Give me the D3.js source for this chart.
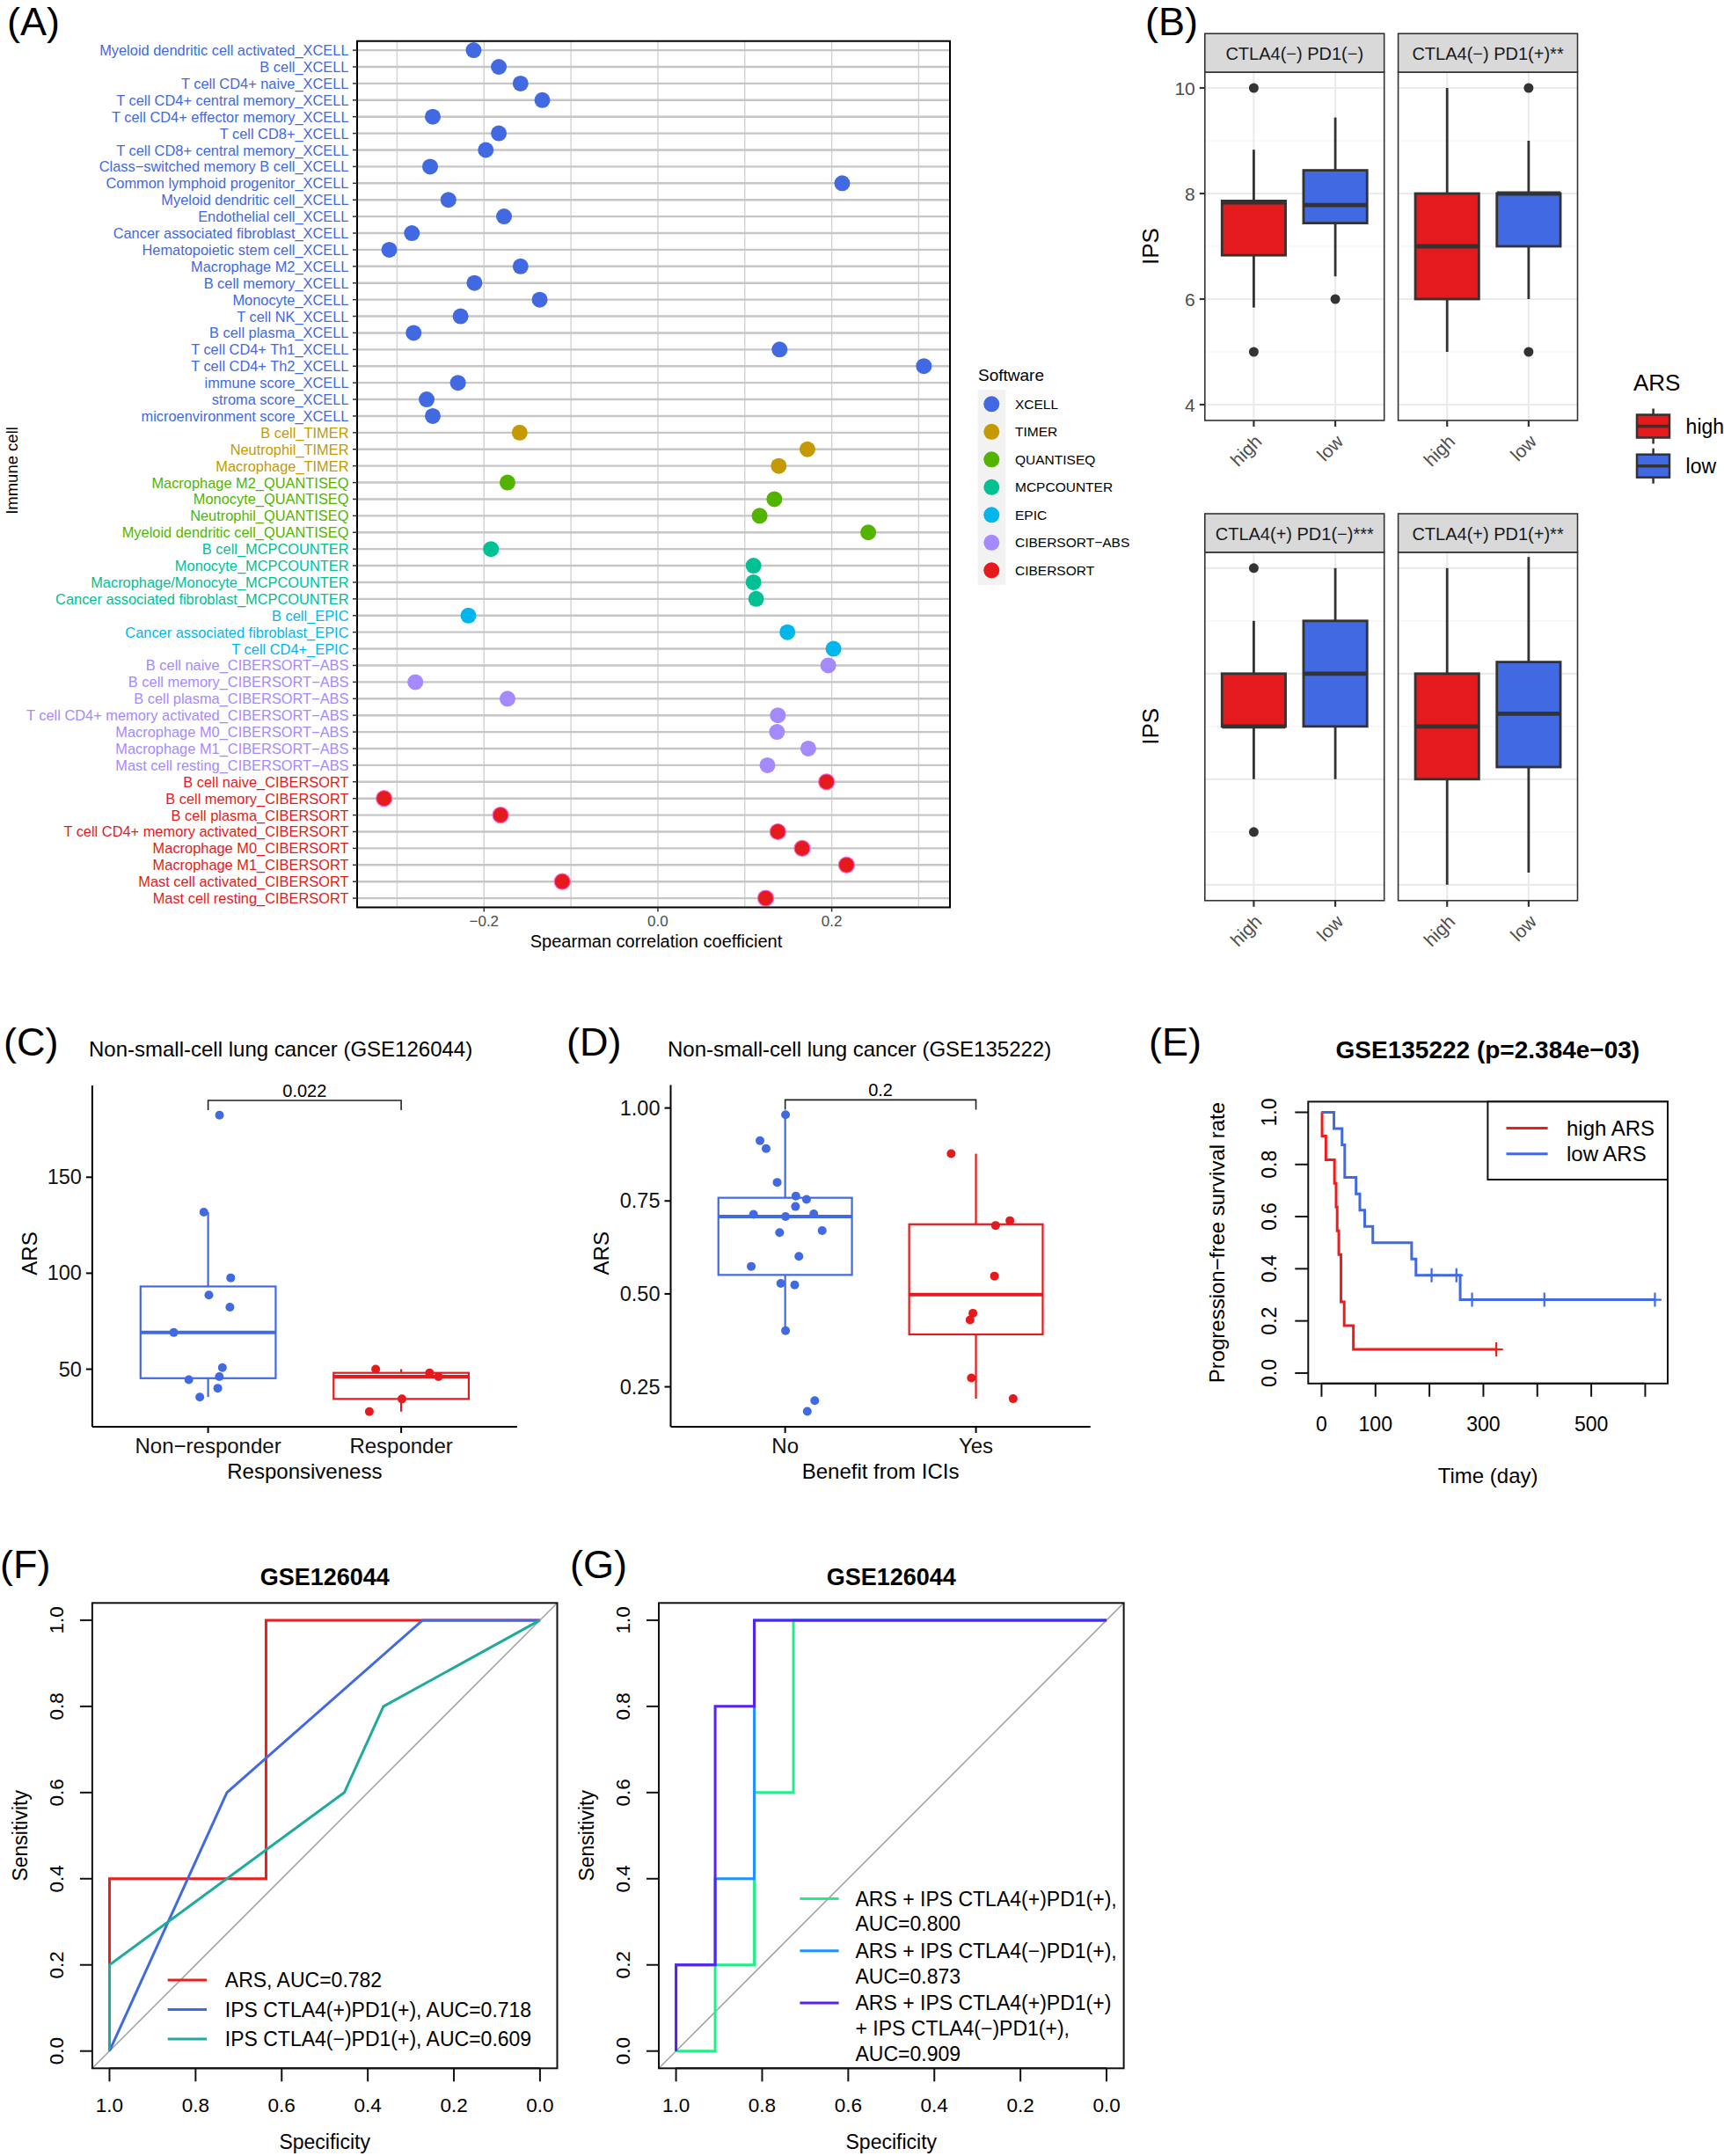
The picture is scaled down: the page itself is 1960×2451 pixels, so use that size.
<!DOCTYPE html>
<html><head><meta charset="utf-8">
<script src="https://cdn.jsdelivr.net/npm/d3@7"></script>
<style>
body{margin:0;background:#fff}
svg text{font-family:"Liberation Sans",Arial,Helvetica,sans-serif}
</style>
</head><body>
<svg id="fig" width="1960" height="2451" xmlns="http://www.w3.org/2000/svg"></svg>
<script>
// ================= DATA =================
// Panel A
const cellLabels = [
"Myeloid dendritic cell activated_XCELL","B cell_XCELL","T cell CD4+ naive_XCELL","T cell CD4+ central memory_XCELL","T cell CD4+ effector memory_XCELL","T cell CD8+_XCELL","T cell CD8+ central memory_XCELL","Class−switched memory B cell_XCELL","Common lymphoid progenitor_XCELL","Myeloid dendritic cell_XCELL","Endothelial cell_XCELL","Cancer associated fibroblast_XCELL","Hematopoietic stem cell_XCELL","Macrophage M2_XCELL","B cell memory_XCELL","Monocyte_XCELL","T cell NK_XCELL","B cell plasma_XCELL","T cell CD4+ Th1_XCELL","T cell CD4+ Th2_XCELL","immune score_XCELL","stroma score_XCELL","microenvironment score_XCELL",
"B cell_TIMER","Neutrophil_TIMER","Macrophage_TIMER",
"Macrophage M2_QUANTISEQ","Monocyte_QUANTISEQ","Neutrophil_QUANTISEQ","Myeloid dendritic cell_QUANTISEQ",
"B cell_MCPCOUNTER","Monocyte_MCPCOUNTER","Macrophage/Monocyte_MCPCOUNTER","Cancer associated fibroblast_MCPCOUNTER",
"B cell_EPIC","Cancer associated fibroblast_EPIC","T cell CD4+_EPIC",
"B cell naive_CIBERSORT−ABS","B cell memory_CIBERSORT−ABS","B cell plasma_CIBERSORT−ABS","T cell CD4+ memory activated_CIBERSORT−ABS","Macrophage M0_CIBERSORT−ABS","Macrophage M1_CIBERSORT−ABS","Mast cell resting_CIBERSORT−ABS",
"B cell naive_CIBERSORT","B cell memory_CIBERSORT","B cell plasma_CIBERSORT","T cell CD4+ memory activated_CIBERSORT","Macrophage M0_CIBERSORT","Macrophage M1_CIBERSORT","Mast cell activated_CIBERSORT","Mast cell resting_CIBERSORT"];
const cellRho = [-0.212,-0.183,-0.158,-0.133,-0.259,-0.183,-0.198,-0.262,0.212,-0.241,-0.177,-0.283,-0.309,-0.158,-0.211,-0.136,-0.227,-0.281,0.140,0.306,-0.230,-0.266,-0.259,
-0.159,0.172,0.139,
-0.173,0.134,0.117,0.242,
-0.192,0.110,0.110,0.113,
-0.218,0.149,0.202,
0.196,-0.279,-0.173,0.138,0.137,0.173,0.126,
0.194,-0.315,-0.181,0.138,0.166,0.217,-0.110,0.124];
const softwareNames = ["XCELL","TIMER","QUANTISEQ","MCPCOUNTER","EPIC","CIBERSORT−ABS","CIBERSORT"];
const softwareColors = ["#4169E1","#C49A00","#53B400","#00C094","#00B6EB","#A58AFF","#E41A1C"];
const rhoTicks = [-0.2, 0, 0.2];
const rhoGrid = [-0.3,-0.2,-0.1,0,0.1,0.2,0.3];

// Panel B
const ipsFacets = ["CTLA4(−) PD1(−)","CTLA4(−) PD1(+)**","CTLA4(+) PD1(−)***","CTLA4(+) PD1(+)**"];
const arsGroups = ["high","low"];
const arsColors = ["#E41A1C","#4169E1"];
const ipsWhiskerLow  = [[5.84,6.43],[5,6],[6,6],[4,4.23]];
const ipsQ1          = [[6.83,7.44],[6,7],[7,7],[6,6.23]];
const ipsMedian      = [[7.83,7.78],[7,8],[7,8],[7,7.24]];
const ipsQ3          = [[7.86,8.44],[8,8],[8,9],[8,8.22]];
const ipsWhiskerHigh = [[8.83,9.44],[10,9],[9,10],[10,10.21]];
const ipsOutliers    = [[[5,10],[6]],[[],[5,10]],[[5,10],[]],[[],[]]];
const ipsTicks = [4,6,8,10];
const ipsGrid = [4,5,6,7,8,9,10];

// Panel C
const cGroups = ["Non−responder","Responder"];
const cColors = ["#4169E1","#E41A1C"];
const cNonResponderARS = [182.3,131.8,97.6,88.6,82.3,69.1,50.8,44.5,46.1,40.1,35.5];
const cNonResponderJitter = [0.059,-0.022,0.117,0.004,0.113,-0.178,0.074,-0.10,0.058,0.05,-0.043];
const cResponderARS = [50.0,48.1,46.1,34.5,27.9];
const cResponderJitter = [-0.132,0.147,0.193,0.004,-0.165];
const cTicks = [50,100,150];
const cPValue = "0.022";

// Panel D
const dGroups = ["No","Yes"];
const dColors = ["#4169E1","#E41A1C"];
const dNoARS = [0.982,0.912,0.891,0.800,0.763,0.754,0.735,0.714,0.708,0.715,0.665,0.670,0.601,0.574,0.528,0.524,0.401,0.213,0.184];
const dNoJitter = [0.002,-0.132,-0.10,-0.042,0.056,0.112,0.054,-0.166,0.002,0.15,-0.029,0.194,0.072,-0.178,-0.023,0.05,0.002,0.155,0.116];
const dYesARS = [0.877,0.697,0.684,0.548,0.448,0.430,0.274,0.218];
const dYesJitter = [-0.13,0.178,0.103,0.097,-0.016,-0.031,-0.024,0.195];
const dTicks = [0.25,0.5,0.75,1.0];
const dPValue = "0.2";

// Panel E (Kaplan-Meier)
const kmHighTime   = [1,8,24,27,29,32,36,36,42,59,324];
const kmHighStatus = [1,1,1,1,1,1,1,1,1,1,0];
const kmLowTime    = [23,38,43,43,64,71,80,95,167,175,204,250,257,279,413,618];
const kmLowStatus  = [1,1,1,1,1,1,1,1,1,1,0,0,1,0,0,0];
const kmLabels = ["high ARS","low ARS"];
const kmColors = ["#EE1C1C","#4169E1"];
const kmXTicks = [0,100,200,300,400,500,600];
const kmXLabels = [0,100,300,500];
const kmYTicks = [0,0.2,0.4,0.6,0.8,1.0];

// Panel F (ROC)
const rocFLabels = ["ARS, AUC=0.782","IPS CTLA4(+)PD1(+), AUC=0.718","IPS CTLA4(−)PD1(+), AUC=0.609"];
const rocFColors = ["#EE1C1C","#4169E1","#1FAA9C"];
const rocFSpec = [[1,1,0.6364,0.6364,0],[1,0.7273,0.2727,0],[1,1,0.4545,0.3636,0]];
const rocFSens = [[0,0.4,0.4,1,1],[0,0.6,1,1],[0,0.2,0.6,0.8,1]];
// Panel G (ROC)
const rocGLabels = [["ARS + IPS CTLA4(+)PD1(+),","AUC=0.800"],["ARS + IPS CTLA4(−)PD1(+),","AUC=0.873"],["ARS + IPS CTLA4(+)PD1(+)","+ IPS CTLA4(−)PD1(+),","AUC=0.909"]];
const rocGColors = ["#22EE88","#1E90FF","#5522EE"];
const rocGSpec = [[1,0.9091,0.9091,0.8182,0.8182,0.7273,0.7273,0],[1,1,0.9091,0.9091,0.8182,0.8182,0],[1,1,0.9091,0.9091,0.8182,0.8182,0]];
const rocGSens = [[0,0,0.2,0.2,0.6,0.6,1,1],[0,0.2,0.2,0.4,0.4,1,1],[0,0.2,0.2,0.8,0.8,1,1]];
const rocTicks = [0,0.2,0.4,0.6,0.8,1.0];

// ================= DRAW =================
const svg = d3.select("#fig");
svg.append("rect").attr("width",1960).attr("height",2451).attr("fill","#fff");

function txt(g, x, y, s, o={}) {
  const t = g.append("text").attr("x",x).attr("y",y).text(s)
    .attr("font-size", o.size||16).attr("fill", o.fill||"#000")
    .attr("text-anchor", o.anchor||"start")
    .attr("dominant-baseline", o.base||"central");
  if (o.weight) t.attr("font-weight", o.weight);
  if (o.rotate) t.attr("transform", `rotate(${o.rotate},${x},${y})`);
  return t;
}

// panel letters
[["(A)",8,40],["(B)",1302,40],["(C)",4,1200],["(D)",644,1200],["(E)",1306,1200],["(F)",0,1794],["(G)",648,1794]]
  .forEach(([s,x,y]) => txt(svg,x,y,s,{size:45,base:"alphabetic"}));

// ---------- Panel A ----------
(function(){
  const g = svg.append("g");
  const L=406, R=1080, T=46.7, B=1031.5;
  const x = d3.scaleLinear().domain([-0.346,0.336]).range([L,R]);
  const y = d3.scalePoint().domain(cellLabels).range([T,B]).padding(0.55);
  const sw = l => l.slice(l.lastIndexOf("_")+1);
  const col = d3.scaleOrdinal().domain(softwareNames).range(softwareColors);
  g.selectAll(".vg").data(rhoGrid).join("line")
    .attr("x1",d=>x(d)).attr("x2",d=>x(d)).attr("y1",T).attr("y2",B)
    .attr("stroke","#d2d2d2").attr("stroke-width",1.4);
  g.selectAll(".hg").data(cellLabels).join("line")
    .attr("x1",L).attr("x2",R).attr("y1",d=>y(d)).attr("y2",d=>y(d))
    .attr("stroke","#c6c6c6").attr("stroke-width",2.4);
  g.selectAll(".dot").data(cellLabels).join("circle")
    .attr("cx",(d,i)=>x(cellRho[i])).attr("cy",d=>y(d)).attr("r",9)
    .attr("fill",d=>col(sw(d)))
    .attr("stroke",d=>sw(d)==="CIBERSORT"?"#FB61D7":"none").attr("stroke-width",1.2);
  g.append("rect").attr("x",L).attr("y",T).attr("width",R-L).attr("height",B-T)
    .attr("fill","none").attr("stroke","#000").attr("stroke-width",2);
  g.selectAll(".yt").data(cellLabels).join("line")
    .attr("x1",L-5).attr("x2",L).attr("y1",d=>y(d)).attr("y2",d=>y(d))
    .attr("stroke","#333").attr("stroke-width",1.5);
  cellLabels.forEach(l => txt(g, L-9.5, y(l), l, {size:16.4, anchor:"end", fill:col(sw(l))}));
  g.selectAll(".xt").data(rhoTicks).join("line")
    .attr("x1",d=>x(d)).attr("x2",d=>x(d)).attr("y1",B).attr("y2",B+5)
    .attr("stroke","#333").attr("stroke-width",1.5);
  rhoTicks.forEach(v => txt(g, x(v), B+15.5, d3.format(".1f")(v), {size:17, anchor:"middle", fill:"#4d4d4d"}));
  txt(g, (L+R)/2+3, 1070, "Spearman correlation coefficient", {size:20, anchor:"middle"});
  txt(g, 13, 535, "Immune cell", {size:18.5, anchor:"middle", rotate:-90});
  // legend
  txt(g, 1112, 426, "Software", {size:19});
  g.append("rect").attr("x",1111.7).attr("y",443).attr("width",31.6).attr("height",222).attr("fill","#f2f2f2");
  softwareNames.forEach((s,i) => {
    const cy = 459.3 + i*31.5;
    g.append("circle").attr("cx",1127.3).attr("cy",cy).attr("r",9).attr("fill",softwareColors[i]);
    txt(g, 1154, cy, s, {size:15.5});
  });
})();

// ---------- Panel B ----------
(function(){
  const g = svg.append("g");
  const colX = [1369.8, 1589.6], W = 203.9;
  const stripTop = [38.2, 584], SH = 43.8, PH = 396;
  ipsFacets.forEach((f, fi) => {
    const x0 = colX[fi%2], st = stripTop[Math.floor(fi/2)], pt = st + SH, pb = pt + PH;
    const y = d3.scaleLinear().domain([3.7,10.3]).range([pb,pt]);
    const x = d3.scalePoint().domain(arsGroups).range([x0,x0+W]).padding(0.6);
    const bw = x.step()*0.78;
    g.append("rect").attr("x",x0).attr("y",pt).attr("width",W).attr("height",PH).attr("fill","#fff");
    ipsGrid.forEach(v => g.append("line").attr("x1",x0).attr("x2",x0+W).attr("y1",y(v)).attr("y2",y(v))
      .attr("stroke", v%2===0?"#EBEBEB":"#F4F4F4").attr("stroke-width", v%2===0?2.2:1.2));
    arsGroups.forEach(a => g.append("line").attr("x1",x(a)).attr("x2",x(a)).attr("y1",pt).attr("y2",pb)
      .attr("stroke","#EBEBEB").attr("stroke-width",2.2));
    arsGroups.forEach((a, ai) => {
      const cx = x(a);
      g.append("line").attr("x1",cx).attr("x2",cx).attr("y1",y(ipsWhiskerHigh[fi][ai])).attr("y2",y(ipsQ3[fi][ai]))
        .attr("stroke","#333").attr("stroke-width",2.8);
      g.append("line").attr("x1",cx).attr("x2",cx).attr("y1",y(ipsQ1[fi][ai])).attr("y2",y(ipsWhiskerLow[fi][ai]))
        .attr("stroke","#333").attr("stroke-width",2.8);
      g.append("rect").attr("x",cx-bw/2).attr("width",bw)
        .attr("y",y(ipsQ3[fi][ai])).attr("height",y(ipsQ1[fi][ai])-y(ipsQ3[fi][ai]))
        .attr("fill",arsColors[ai]).attr("stroke","#333").attr("stroke-width",2.8);
      g.append("line").attr("x1",cx-bw/2).attr("x2",cx+bw/2).attr("y1",y(ipsMedian[fi][ai])).attr("y2",y(ipsMedian[fi][ai]))
        .attr("stroke","#333").attr("stroke-width",4.8);
      ipsOutliers[fi][ai].forEach(o => g.append("circle").attr("cx",cx).attr("cy",y(o)).attr("r",5.5).attr("fill","#333"));
    });
    g.append("rect").attr("x",x0).attr("y",pt).attr("width",W).attr("height",PH)
      .attr("fill","none").attr("stroke","#333").attr("stroke-width",1.6);
    g.append("rect").attr("x",x0).attr("y",st).attr("width",W).attr("height",SH)
      .attr("fill","#D9D9D9").attr("stroke","#333").attr("stroke-width",1.6);
    txt(g, x0+W/2, st+SH/2+1, f, {size:20, anchor:"middle", fill:"#1A1A1A"});
    arsGroups.forEach(a => {
      g.append("line").attr("x1",x(a)).attr("x2",x(a)).attr("y1",pb).attr("y2",pb+7).attr("stroke","#333").attr("stroke-width",2.2);
      txt(g, x(a)+5, pb+20, a, {size:21, anchor:"end", fill:"#4D4D4D", rotate:-45});
    });
    if (fi===0) {
      ipsTicks.forEach(v => {
        g.append("line").attr("x1",x0-6).attr("x2",x0).attr("y1",y(v)).attr("y2",y(v)).attr("stroke","#333").attr("stroke-width",2.2);
        txt(g, x0-11, y(v), String(v), {size:21, anchor:"end", fill:"#4D4D4D"});
      });
    }
    if (fi%2===0) txt(g, 1308, pt+PH/2, "IPS", {size:26, anchor:"middle", rotate:-90});
  });
  // legend
  txt(g, 1857, 435, "ARS", {size:26});
  arsGroups.forEach((a, ai) => {
    const cy = 484.5 + ai*45.2;
    g.append("line").attr("x1",1879.6).attr("x2",1879.6).attr("y1",cy-20).attr("y2",cy+20).attr("stroke","#333").attr("stroke-width",2.5);
    g.append("rect").attr("x",1861).attr("y",cy-13).attr("width",37).attr("height",26)
      .attr("fill",arsColors[ai]).attr("stroke","#333").attr("stroke-width",2.5);
    g.append("line").attr("x1",1861).attr("x2",1898).attr("y1",cy).attr("y2",cy).attr("stroke","#333").attr("stroke-width",3.5);
    txt(g, 1916.6, cy, a, {size:23});
  });
})();

// ---------- Panels C & D (ggpubr boxplots) ----------
function boxPanel(opt){
  const g = svg.append("g");
  const {L,R,T,B} = opt;
  const x = d3.scalePoint().domain(opt.groups).range([L,R]).padding(0.6);
  const y = d3.scaleLinear().domain(opt.ydom).range([B,T]);
  const bw = x.step()*0.7;
  opt.groups.forEach((grp, gi) => {
    const vals = opt.values[gi].slice().sort(d3.ascending);
    const q1 = d3.quantile(vals,0.25), md = d3.quantile(vals,0.5), q3 = d3.quantile(vals,0.75), iqr = q3-q1;
    const lo = d3.min(vals.filter(v => v >= q1-1.5*iqr)), hi = d3.max(vals.filter(v => v <= q3+1.5*iqr));
    const cx = x(grp), c = opt.colors[gi];
    g.append("line").attr("x1",cx).attr("x2",cx).attr("y1",y(hi)).attr("y2",y(q3)).attr("stroke",c).attr("stroke-width",2.2);
    g.append("line").attr("x1",cx).attr("x2",cx).attr("y1",y(q1)).attr("y2",y(lo)).attr("stroke",c).attr("stroke-width",2.2);
    g.append("rect").attr("x",cx-bw/2).attr("width",bw).attr("y",y(q3)).attr("height",y(q1)-y(q3))
      .attr("fill","#fff").attr("stroke",c).attr("stroke-width",2.2);
    g.append("line").attr("x1",cx-bw/2).attr("x2",cx+bw/2).attr("y1",y(md)).attr("y2",y(md)).attr("stroke",c).attr("stroke-width",4);
    opt.values[gi].forEach((v,i) => g.append("circle")
      .attr("cx", cx + opt.jitter[gi][i]*x.step()).attr("cy", y(v)).attr("r",5).attr("fill",c));
  });
  g.append("line").attr("x1",L).attr("x2",L).attr("y1",T).attr("y2",B).attr("stroke","#000").attr("stroke-width",2);
  g.append("line").attr("x1",L).attr("x2",R).attr("y1",B).attr("y2",B).attr("stroke","#000").attr("stroke-width",2);
  opt.ticks.forEach(v => {
    g.append("line").attr("x1",L-7).attr("x2",L).attr("y1",y(v)).attr("y2",y(v)).attr("stroke","#000").attr("stroke-width",2);
    txt(g, L-12, y(v), opt.fmt(v), {size:23.5, anchor:"end", fill:"#111"});
  });
  opt.groups.forEach(grp => {
    g.append("line").attr("x1",x(grp)).attr("x2",x(grp)).attr("y1",B).attr("y2",B+7).attr("stroke","#000").attr("stroke-width",2);
    txt(g, x(grp), B+21, grp, {size:24, anchor:"middle", fill:"#111"});
  });
  txt(g, (L+R)/2, 1672, opt.xtitle, {size:24, anchor:"middle"});
  txt(g, opt.ytitleX, (T+B)/2-3, "ARS", {size:24, anchor:"middle", rotate:-90});
  txt(g, opt.titleX, 1192, opt.title, {size:24});
  const by = T+17, x1 = x(opt.groups[0]), x2 = x(opt.groups[1]);
  g.append("path").attr("d",`M${x1},${by+11}V${by}H${x2}V${by+11}`).attr("fill","none").attr("stroke","#222").attr("stroke-width",1.6);
  txt(g, (x1+x2)/2, by-11, opt.p, {size:20, anchor:"middle"});
}
boxPanel({L:104.9,R:587.8,T:1234,B:1622, groups:cGroups, colors:cColors,
  values:[cNonResponderARS,cResponderARS], jitter:[cNonResponderJitter,cResponderJitter],
  ydom:[20,197.8], ticks:cTicks, fmt:d3.format("d"), xtitle:"Responsiveness", ytitleX:33,
  title:"Non-small-cell lung cancer (GSE126044)", titleX:101, p:cPValue});
boxPanel({L:762.5,R:1239.7,T:1233.4,B:1622, groups:dGroups, colors:dColors,
  values:[dNoARS,dYesARS], jitter:[dNoJitter,dYesJitter],
  ydom:[0.1425,1.062], ticks:dTicks, fmt:d3.format(".2f"), xtitle:"Benefit from ICIs", ytitleX:684,
  title:"Non-small-cell lung cancer (GSE135222)", titleX:759, p:dPValue});

// ---------- Panel E (Kaplan-Meier) ----------
(function(){
  const g = svg.append("g");
  const L=1487.3, R=1896, T=1252.4, B=1572.8;
  const x = d3.scaleLinear().domain([-24.7,641.7]).range([L,R]);
  const y = d3.scaleLinear().domain([-0.04,1.0408]).range([B,T]);
  function km(times, status){
    const uniq = Array.from(new Set(times)).sort((a,b)=>a-b);
    let atRisk = times.length, s = 1;
    const pts = [[0,1]], cens = [];
    uniq.forEach(t => {
      const d = times.filter((tt,i)=>tt===t && status[i]===1).length;
      const c = times.filter((tt,i)=>tt===t && status[i]===0).length;
      if (d>0) { s = s*(1-d/atRisk); pts.push([t,s]); }
      if (c>0) cens.push([t,s]);
      atRisk -= d+c;
    });
    pts.push([d3.max(times), s]);
    return {pts, cens};
  }
  const line = d3.line().x(d=>x(d[0])).y(d=>y(d[1])).curve(d3.curveStepAfter);
  [[kmHighTime,kmHighStatus],[kmLowTime,kmLowStatus]].forEach(([t,s],k) => {
    const r = km(t,s);
    g.append("path").attr("d",line(r.pts)).attr("fill","none").attr("stroke",kmColors[k]).attr("stroke-width",3);
    r.cens.forEach(([ct,cs]) => g.append("path")
      .attr("d",`M${x(ct)-7.5},${y(cs)}H${x(ct)+7.5}M${x(ct)},${y(cs)-8}V${y(cs)+8}`)
      .attr("stroke",kmColors[k]).attr("stroke-width",2.2));
  });
  g.append("rect").attr("x",L).attr("y",T).attr("width",R-L).attr("height",B-T).attr("fill","none").attr("stroke","#111").attr("stroke-width",2);
  g.append("line").attr("x1",x(0)).attr("x2",x(600)).attr("y1",B).attr("y2",B).attr("stroke","#111").attr("stroke-width",2);
  kmXTicks.forEach(v => g.append("line").attr("x1",x(v)).attr("x2",x(v)).attr("y1",B).attr("y2",B+15).attr("stroke","#111").attr("stroke-width",2));
  kmXLabels.forEach(v => txt(g, x(v), 1619, String(v), {size:23, anchor:"middle"}));
  kmYTicks.forEach(v => {
    g.append("line").attr("x1",L-15).attr("x2",L).attr("y1",y(v)).attr("y2",y(v)).attr("stroke","#111").attr("stroke-width",2);
    txt(g, 1443, y(v), d3.format(".1f")(v), {size:23, anchor:"middle", rotate:-90});
  });
  txt(g, 1384, (T+B)/2, "Progression−free survival rate", {size:24, anchor:"middle", rotate:-90});
  txt(g, (L+R)/2, 1677, "Time (day)", {size:24, anchor:"middle"});
  txt(g, 1691.4, 1193, "GSE135222 (p=2.384e−03)", {size:28, anchor:"middle", weight:"bold"});
  g.append("rect").attr("x",1691.4).attr("y",T).attr("width",R-1691.4).attr("height",1341-T).attr("fill","#fff").attr("stroke","#111").attr("stroke-width",2);
  kmLabels.forEach((l,i) => {
    const ly = 1282.4 + i*29.3;
    g.append("line").attr("x1",1712.5).attr("x2",1759.6).attr("y1",ly).attr("y2",ly).attr("stroke",kmColors[i]).attr("stroke-width",3);
    txt(g, 1781, ly, l, {size:24});
  });
})();

// ---------- Panels F & G (ROC) ----------
function rocPanel(opt){
  const g = svg.append("g");
  const {L,R} = opt, T=1822.3, B=2351.3;
  const x = d3.scaleLinear().domain([1.04,-0.04]).range([L,R]);
  const y = d3.scaleLinear().domain([-0.04,1.04]).range([B,T]);
  g.append("line").attr("x1",x(1.04)).attr("y1",y(-0.04)).attr("x2",x(-0.04)).attr("y2",y(1.04))
    .attr("stroke","#a0a0a0").attr("stroke-width",1.5);
  const line = d3.line().x(d=>x(d[0])).y(d=>y(d[1]));
  opt.spec.forEach((sp,k) => g.append("path").attr("d", line(sp.map((s,i)=>[s,opt.sens[k][i]])))
    .attr("fill","none").attr("stroke",opt.colors[k]).attr("stroke-width",3));
  g.append("rect").attr("x",L).attr("y",T).attr("width",R-L).attr("height",B-T).attr("fill","none").attr("stroke","#111").attr("stroke-width",2);
  rocTicks.forEach(v => {
    g.append("line").attr("x1",x(v)).attr("x2",x(v)).attr("y1",B).attr("y2",B+15).attr("stroke","#111").attr("stroke-width",2);
    txt(g, x(v), 2393, d3.format(".1f")(v), {size:22.5, anchor:"middle"});
    g.append("line").attr("x1",L-14).attr("x2",L).attr("y1",y(v)).attr("y2",y(v)).attr("stroke","#111").attr("stroke-width",2);
    txt(g, L-40.5, y(v), d3.format(".1f")(v), {size:22.5, anchor:"middle", rotate:-90});
  });
  g.append("line").attr("x1",x(1)).attr("x2",x(0)).attr("y1",B).attr("y2",B).attr("stroke","#111").attr("stroke-width",2);
  txt(g, (L+R)/2, 1793, "GSE126044", {size:27, anchor:"middle", weight:"bold"});
  txt(g, (L+R)/2, 2435, "Specificity", {size:23, anchor:"middle"});
  txt(g, L-82, (T+B)/2, "Sensitivity", {size:23, anchor:"middle", rotate:-90});
  opt.legend(g);
}
rocPanel({L:104.9, R:633.5, spec:rocFSpec, sens:rocFSens, colors:rocFColors, legend:g => {
  rocFLabels.forEach((l,i) => {
    const ly = 2251 + i*33.5;
    g.append("line").attr("x1",190.7).attr("x2",235).attr("y1",ly).attr("y2",ly).attr("stroke",rocFColors[i]).attr("stroke-width",3);
    txt(g, 255.8, ly, l, {size:23});
  });
}});
rocPanel({L:749, R:1277.6, spec:rocGSpec, sens:rocGSens, colors:rocGColors, legend:g => {
  let ly = 2158.5;
  rocGLabels.forEach((lines,i) => {
    g.append("line").attr("x1",909.4).attr("x2",953.6).attr("y1",ly).attr("y2",ly).attr("stroke",rocGColors[i]).attr("stroke-width",3);
    lines.forEach((l,j) => txt(g, 972.5, ly + j*28.9, l, {size:23}));
    ly += lines.length*28.9 + 1.5;
  });
}});
</script>
</body></html>
